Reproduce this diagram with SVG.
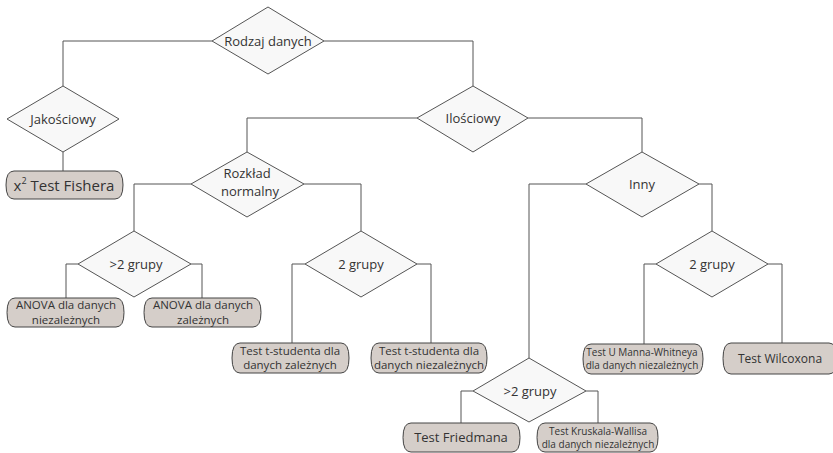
<svg xmlns="http://www.w3.org/2000/svg" width="833" height="453" viewBox="0 0 833 453">
<style>
.d{fill:#f8f8f8;stroke:#555;stroke-width:1}
.b{fill:#d5cec9;stroke:#444;stroke-width:1}
.c{fill:none;stroke:#555;stroke-width:1}
text{font-family:"Open Sans","Noto Sans","Liberation Sans",sans-serif;fill:#333;text-anchor:middle}
.t13{font-size:13px}
.t15{font-size:15px}
.t12{font-size:12px}
.t11{font-size:11.5px}
.t10{font-size:10px}
</style>
<rect width="833" height="453" fill="#fff"/>
<g id="connectors">
<path class="c" d="M212,41 H63 V86"/>
<path class="c" d="M63,152 V171"/>
<path class="c" d="M324,41 H473 V86"/>
<path class="c" d="M417,118 H247 V152"/>
<path class="c" d="M528,118 H642 V152"/>
<path class="c" d="M191,184 H134 V231"/>
<path class="c" d="M304,184 H361 V231"/>
<path class="c" d="M78,264 H66 V298"/>
<path class="c" d="M191,264 H202 V298"/>
<path class="c" d="M305,264 H292 V343"/>
<path class="c" d="M417,264 H431 V343"/>
<path class="c" d="M586,184 H529 V358"/>
<path class="c" d="M699,184 H712 V231"/>
<path class="c" d="M656,264 H644 V344"/>
<path class="c" d="M768,264 H782 V343"/>
<path class="c" d="M473,391 H461 V423"/>
<path class="c" d="M586,391 H598 V423"/>
</g>
<g id="rodzaj">
<polygon class="d" points="268,7 324,41 268,74 212,41"/>
<text class="t13" x="268" y="46">Rodzaj danych</text>
</g>
<g id="jakosciowy">
<polygon class="d" points="63,86 119,119 63,152 7,119"/>
<text class="t13" x="63" y="124">Jakościowy</text>
</g>
<g id="fishera">
<path class="b" d="M14,171 H115 Q123,171 123,185 Q123,199 115,199 H14 Q6,199 6,185 Q6,171 14,171 Z"/>
<text class="t15" x="64" y="191">x<tspan dy="-7" font-size="9">2</tspan><tspan dy="7"> Test Fishera</tspan></text>
</g>
<g id="ilosciowy">
<polygon class="d" points="473,86 528,118 473,152 417,118"/>
<text class="t13" x="473" y="123">Ilościowy</text>
</g>
<g id="rozklad">
<polygon class="d" points="247,152 304,184 247,217 191,184"/>
<text class="t13" x="247" y="178">Rozkład</text>
<text class="t13" x="250" y="196">normalny</text>
</g>
<g id="inny">
<polygon class="d" points="642,152 699,184 642,217 586,184"/>
<text class="t13" x="642" y="189">Inny</text>
</g>
<g id="grupy3a">
<polygon class="d" points="134,231 191,264 134,297 78,264"/>
<text class="t13" x="136" y="269">&gt;2 grupy</text>
</g>
<g id="grupy2a">
<polygon class="d" points="361,231 417,264 361,297 305,264"/>
<text class="t13" x="361" y="269">2 grupy</text>
</g>
<g id="grupy2b">
<polygon class="d" points="712,231 768,264 712,297 656,264"/>
<text class="t13" x="712" y="269">2 grupy</text>
</g>
<g id="grupy3b">
<polygon class="d" points="529,358 586,391 529,422 473,391"/>
<text class="t13" x="530" y="396">&gt;2 grupy</text>
</g>
<g id="anova1">
<path class="b" d="M15,298 H116 Q124,298 124,312.5 Q124,327 116,327 H15 Q7,327 7,312.5 Q7,298 15,298 Z"/>
<text class="t11" x="66" y="309">ANOVA dla danych</text>
<text class="t11" x="66" y="324">niezależnych</text>
</g>
<g id="anova2">
<path class="b" d="M152,298 H253 Q261,298 261,312.5 Q261,327 253,327 H152 Q144,327 144,312.5 Q144,298 152,298 Z"/>
<text class="t11" x="203" y="309">ANOVA dla danych</text>
<text class="t11" x="203" y="324">zależnych</text>
</g>
<g id="tstud1">
<path class="b" d="M240,343 H341 Q349,343 349,358 Q349,373 341,373 H240 Q232,373 232,358 Q232,343 240,343 Z"/>
<text class="t11" x="290" y="355">Test t-studenta dla</text>
<text class="t11" x="290" y="369">danych zależnych</text>
</g>
<g id="tstud2">
<path class="b" d="M379,343 H479 Q487,343 487,358 Q487,373 479,373 H379 Q371,373 371,358 Q371,343 379,343 Z"/>
<text class="t11" x="429" y="355">Test t-studenta dla</text>
<text class="t11" x="429" y="369">danych niezależnych</text>
</g>
<g id="manna">
<path class="b" d="M591,344 H695 Q703,344 703,359 Q703,374 695,374 H591 Q583,374 583,359 Q583,344 591,344 Z"/>
<text class="t10" x="642" y="356">Test U Manna-Whitneya</text>
<text class="t10" x="642" y="369">dla danych niezależnych</text>
</g>
<g id="wilcoxona">
<path class="b" d="M731,343 H829 Q837,343 837,358.5 Q837,374 829,374 H731 Q723,374 723,358.5 Q723,343 731,343 Z"/>
<text class="t12" x="780" y="363">Test Wilcoxona</text>
</g>
<g id="friedmana">
<path class="b" d="M411,423 H512 Q520,423 520,437.5 Q520,452 512,452 H411 Q403,452 403,437.5 Q403,423 411,423 Z"/>
<text class="t13" x="461" y="442">Test Friedmana</text>
</g>
<g id="kruskala">
<path class="b" d="M545,423 H650 Q658,423 658,437.5 Q658,452 650,452 H545 Q537,452 537,437.5 Q537,423 545,423 Z"/>
<text class="t10" x="598" y="435">Test Kruskala-Wallisa</text>
<text class="t10" x="598" y="448">dla danych niezależnych</text>
</g>
</svg>
